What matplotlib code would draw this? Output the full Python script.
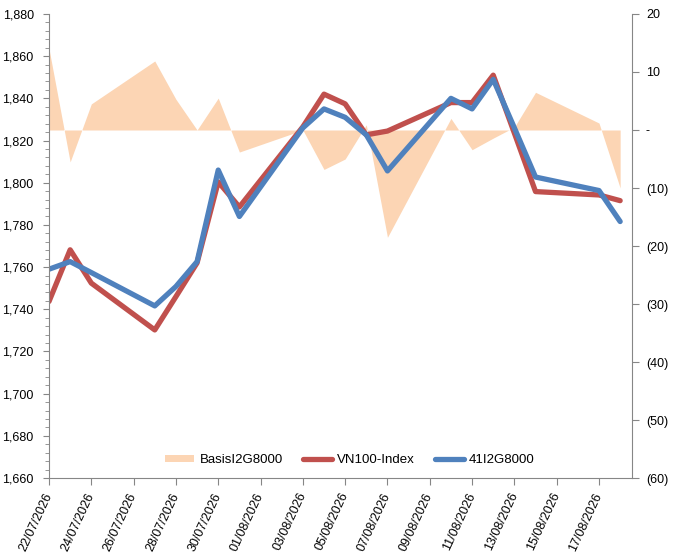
import pandas as pd
import numpy as np
import matplotlib
matplotlib.use('Agg')
import matplotlib.pyplot as plt
import matplotlib.dates as mdates
from matplotlib.ticker import FuncFormatter, MultipleLocator
from matplotlib.patches import Patch
from matplotlib.lines import Line2D

plt.rcParams['font.family'] = ['Liberation Sans', 'DejaVu Sans']

# 数据
dates = pd.to_datetime([
    '2026-07-22', '2026-07-23', '2026-07-24', '2026-07-27', '2026-07-28',
    '2026-07-29', '2026-07-30', '2026-07-31', '2026-08-03', '2026-08-04',
    '2026-08-05', '2026-08-06', '2026-08-07', '2026-08-10', '2026-08-11',
    '2026-08-12', '2026-08-13', '2026-08-14', '2026-08-17', '2026-08-18',
])
vn100 = [1743.7, 1768.2, 1752.4, 1730.2, 1746.0, 1762.0, 1800.4, 1788.5, 1826.5, 1842.0,
         1837.4, 1822.7, 1824.5, 1838.0, 1838.0, 1851.0, 1823.5, 1795.8, 1794.2, 1791.5]
fut = [1759.0, 1762.6, 1757.4, 1741.6, 1750.8, 1762.6, 1806.0, 1784.0, 1826.0, 1835.0,
       1831.0, 1822.7, 1805.6, 1840.0, 1835.0, 1849.0, 1826.0, 1802.7, 1796.3, 1781.6]
basis = [14.0, -5.5, 4.5, 11.9, 5.3, 0.0, 5.5, -3.8, 0.0, -6.8,
         -5.0, 0.9, -18.5, 2.0, -3.4, -1.4, 0.5, 6.5, 1.2, -10.0]

labels = ['BasisI2G8000', 'VN100-Index', '41I2G8000']
c_basis = '#FCD5B4'
c_red = '#C0504D'
c_blue = '#4F81BD'
c_axis = '#868686'

fig = plt.figure(figsize=(6.73, 5.59), dpi=100)
ax = fig.add_axes([49 / 673, 81 / 559, 583 / 673, 464 / 559])
ax2 = ax.twinx()
ax.set_zorder(ax2.get_zorder() + 1)
ax.patch.set_visible(False)

# 基差面积（右轴）
ax2.fill_between(dates, 0, basis, color=c_basis, linewidth=0)
ax2.set_ylim(-60, 20)
ax2.yaxis.set_major_locator(MultipleLocator(10))
ax2.yaxis.set_major_formatter(FuncFormatter(
    lambda v, p: '-' if abs(v) < 1e-9 else (f'({abs(v):.0f})' if v < 0 else f'{v:.0f}')))

# 指数线（左轴）
ax.plot(dates, vn100, color=c_red, linewidth=3.8, solid_joinstyle='round', solid_capstyle='round')
ax.plot(dates, fut, color=c_blue, linewidth=3.8, solid_joinstyle='round', solid_capstyle='round')
ax.set_ylim(1660, 1880)
ax.yaxis.set_major_locator(MultipleLocator(20))
ax.yaxis.set_minor_locator(MultipleLocator(4))
ax.yaxis.set_major_formatter(FuncFormatter(lambda v, p: f'{v:,.0f}'))

x0 = pd.Timestamp('2026-07-22')
ax.set_xlim(x0, x0 + pd.Timedelta(days=27.56))
ticks = pd.date_range('2026-07-22', '2026-08-17', freq='2D')
ax.set_xticks(ticks)
ax.xaxis.set_major_formatter(mdates.DateFormatter('%d/%m/%Y'))
for lab in ax.get_xticklabels():
    lab.set_rotation(65)
    lab.set_ha('right')
    lab.set_va('center')
    lab.set_rotation_mode('anchor')

for a in (ax, ax2):
    for s in a.spines.values():
        s.set_color(c_axis)
    a.spines['top'].set_visible(False)
ax.spines['right'].set_visible(False)
ax2.spines['left'].set_visible(False)
ax2.spines['bottom'].set_visible(False)

ax.tick_params(axis='y', which='major', length=4, color=c_axis, labelsize=9, pad=7)
ax.tick_params(axis='y', which='minor', length=3, color=c_axis)
ax.tick_params(axis='x', length=5, color=c_axis, labelsize=9, pad=6)
ax2.tick_params(axis='y', length=5, color=c_axis, labelsize=9, pad=5)

handles = [
    Patch(facecolor=c_basis, edgecolor='none'),
    Line2D([0], [0], color=c_red, linewidth=3.8, solid_capstyle='round'),
    Line2D([0], [0], color=c_blue, linewidth=3.8, solid_capstyle='round'),
]
ax.legend(handles, labels, loc='center', bbox_to_anchor=(350 / 673, 1 - 460 / 559),
          bbox_transform=fig.transFigure, ncol=3, frameon=False, fontsize=9.5,
          handlelength=2.2, handleheight=0.5, columnspacing=1.5, handletextpad=0.4)

fig.savefig('out.png', dpi=100)
